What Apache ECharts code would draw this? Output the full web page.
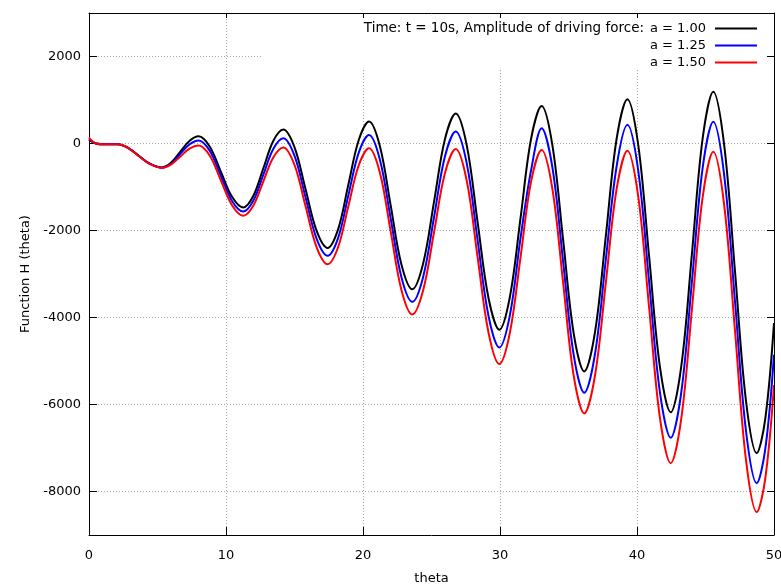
<!DOCTYPE html>
<html>
<head>
<meta charset="utf-8">
<script src="https://cdn.jsdelivr.net/npm/echarts@6/dist/echarts.min.js"></script>
<style>
  html, body { margin: 0; padding: 0; background: #fff; }
  #chart { width: 781px; height: 587px; }
</style>
</head>
<body>
<div id="chart"></div>
<script>
// theta positions (extrema plus points between them)
const theta = [0, 0.5, 1.2, 2.1, 2.9, 3.7, 4.4, 5.3,
  5.98, 6.65, 7.33, 8.0,
  8.82, 9.63, 10.45, 11.26,
  11.99, 12.72, 13.45, 14.18,
  14.99, 15.8, 16.61, 17.42,
  18.18, 18.93, 19.69, 20.44,
  21.23, 22.02, 22.81, 23.6,
  24.39, 25.19, 25.98, 26.77,
  27.57, 28.36, 29.16, 29.95,
  30.72, 31.5, 32.27, 33.04,
  33.82, 34.6, 35.37, 36.15,
  36.94, 37.73, 38.51, 39.3,
  40.09, 40.88, 41.67, 42.46,
  43.24, 44.02, 44.79, 45.57,
  46.36, 47.16, 47.95, 48.74,
  49.37, 50];

const hA100 = [87, 0, -20, -20, -110, -300, -455, -550,
  -445, -193, 60, 165,
  -74, -653, -1231, -1470,
  -1208, -575, 58, 320,
  -78, -1040, -2002, -2400,
  -1975, -948, 80, 505,
  -59, -1423, -2786, -3350,
  -2759, -1330, 99, 690,
  -38, -1795, -3552, -4280,
  -3528, -1710, 108, 860,
  -33, -2190, -4347, -5240,
  -4324, -2110, 104, 1020,
  -34, -2580, -5126, -6180,
  -5101, -2495, 111, 1190,
  -27, -2965, -5903, -7120,
  -6311, -4130];

const hA125 = [100, 0, -20, -20, -110, -300, -460, -555,
  -464, -243, -22, 70,
  -169, -748, -1326, -1565,
  -1318, -723, -127, 120,
  -275, -1230, -2185, -2580,
  -2174, -1193, -211, 195,
  -366, -1723, -3079, -3640,
  -3067, -1683, -298, 275,
  -452, -2208, -3963, -4690,
  -3952, -2170, -612, 350,
  -540, -2690, -4840, -5730,
  -4828, -2650, -528, 430,
  -623, -3168, -5712, -6765,
  -5701, -3133, -564, 500,
  -717, -3655, -6593, -7810,
  -7010, -4860];

const hA150 = [135, 0, -20, -20, -110, -305, -465, -560,
  -485, -303, -120, -45,
  -281, -853, -1424, -1660,
  -1430, -875, -320, -90,
  -483, -1433, -2382, -2775,
  -2385, -1443, -500, -110,
  -669, -2020, -3371, -3930,
  -3373, -2028, -682, -125,
  -849, -2598, -4346, -5070,
  -4350, -2610, -870, -150,
  -1036, -3178, -5319, -6205,
  -5321, -3185, -1049, -165,
  -1217, -3758, -6298, -7350,
  -6302, -3770, -1238, -190,
  -1403, -4333, -7262, -8475,
  -7685, -5552];

const seriesNames = ["a = 1.00", "a = 1.25", "a = 1.50"];
const seriesColors = ["#000000", "#0000ff", "#ff0000"];
const yTicks = [-8000, -6000, -4000, -2000, 0, 2000];

const FONT = "DejaVu Sans";

const chart = echarts.init(document.getElementById("chart"));

const pairs = (ys) => theta.map((t, i) => [t, ys[i]]);

const gridLine = { show: true, lineStyle: { color: "#a8a8a8", type: [1, 2], width: 1 } };

const option = {
  animation: false,
  backgroundColor: "#fff",
  textStyle: { fontFamily: FONT },
  title: {
    text: "Time: t = 10s, Amplitude of driving force:",
    right: 137,
    top: 21,
    padding: 0,
    textStyle: { fontFamily: FONT, fontSize: 13.5, fontWeight: "normal", color: "#000" },
  },
  legend: {
    data: seriesNames,
    orient: "vertical",
    right: 24,
    top: 21,
    padding: 0,
    itemGap: 2,
    itemWidth: 42,
    itemHeight: 2,
    icon: "rect",
    align: "right",
    selectedMode: false,
    textStyle: { fontFamily: FONT, fontSize: 13, color: "#000", lineHeight: 15, padding: [0, 4, 0, 0] },
  },
  graphic: [
    {
      type: "rect",
      z: 1,
      shape: { x: 263, y: 14, width: 510, height: 56 },
      style: { fill: "#fff" },
      silent: true,
    },
  ],
  grid: { left: 89, right: 7, top: 13, bottom: 52, outerBoundsMode: "none" },
  xAxis: [
    {
      type: "value",
      min: 0,
      max: 50,
      interval: 10,
      name: "theta",
      nameLocation: "middle",
      nameGap: 37,
      nameTextStyle: { fontFamily: FONT, fontSize: 13, color: "#000" },
      axisLine: { show: true, onZero: false, lineStyle: { color: "#000", width: 1 } },
      axisTick: { show: true, inside: true, length: 8, lineStyle: { color: "#000" } },
      axisLabel: { fontFamily: FONT, fontSize: 13, color: "#000", margin: 14 },
      splitLine: gridLine,
    },
    {
      type: "value",
      position: "top",
      min: 0,
      max: 50,
      interval: 10,
      z: 5,
      axisLine: { show: true, onZero: false, lineStyle: { color: "#000", width: 1 } },
      axisTick: { show: true, inside: true, length: 5, lineStyle: { color: "#000" } },
      axisLabel: { show: false },
      splitLine: { show: false },
    },
  ],
  yAxis: [
    {
      type: "value",
      min: -9000,
      max: 3000,
      name: "Function H (theta)",
      nameLocation: "middle",
      nameGap: 53,
      nameTextStyle: { fontFamily: FONT, fontSize: 13, color: "#000" },
      axisLine: { show: true, onZero: false, lineStyle: { color: "#000", width: 1 } },
      axisTick: { show: true, inside: true, length: 8, customValues: yTicks, lineStyle: { color: "#000" } },
      axisLabel: {
        fontFamily: FONT, fontSize: 13, color: "#000", margin: 8,
        customValues: yTicks,
        formatter: (v) => String(v),
      },
      splitLine: gridLine,
    },
    {
      type: "value",
      position: "right",
      min: -9000,
      max: 3000,
      z: 5,
      axisLine: { show: true, onZero: false, lineStyle: { color: "#000", width: 1 } },
      axisTick: { show: true, inside: true, length: 7, customValues: yTicks, lineStyle: { color: "#000" } },
      axisLabel: { show: false, customValues: yTicks },
      splitLine: { show: false },
    },
  ],
  series: [hA100, hA125, hA150].map((ys, i) => ({
    name: seriesNames[i],
    type: "line",
    data: pairs(ys),
    smooth: 0.35,
    showSymbol: false,
    z: 3,
    color: seriesColors[i],
    lineStyle: { color: seriesColors[i], width: 2 },
  })),
};

chart.setOption(option);
</script>
</body>
</html>
